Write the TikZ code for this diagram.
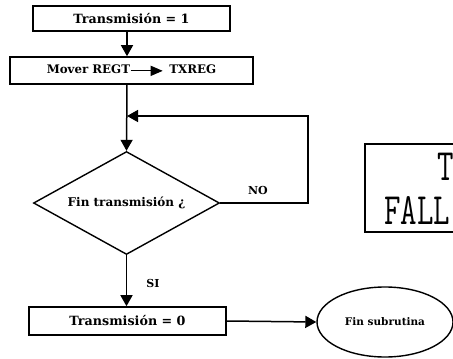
\documentclass[tikz,border=0pt]{standalone}
\usepackage{fontspec}
\setmainfont{DejaVu Serif}
\usetikzlibrary{shapes.geometric,arrows.meta}
\begin{document}
\begin{tikzpicture}[x=1pt,y=-1pt,
  box/.style={draw,line width=1.6pt,rectangle,inner sep=0pt,font=\bfseries\fontsize{12.7}{15}\selectfont},
  dec/.style={draw,line width=1.4pt,diamond,aspect=1.8,inner sep=0pt,minimum width=186pt,minimum height=103pt,font=\bfseries\fontsize{12}{14}\selectfont},
  term/.style={draw,line width=1.4pt,ellipse,inner sep=0pt,minimum width=136pt,minimum height=70pt,font=\bfseries\fontsize{10.5}{13}\selectfont},
  lbl/.style={font=\bfseries\fontsize{11}{13}\selectfont,inner sep=0pt},
  arr/.style={line width=1.5pt,-{Triangle[length=11pt,width=12pt]}},
  stamp/.style={inner sep=0pt,anchor=west,font=\ttfamily\fontsize{32}{34}\selectfont}
]
\useasboundingbox (0,0) rectangle (453,359);
\fill[white] (0,0) rectangle (453,359);

\node[box,minimum width=197pt,minimum height=25pt] (b1) at (131.5,18.5) {Transmisión = 1};
\node[box,minimum width=243pt,minimum height=27pt,font=\bfseries\fontsize{11.8}{13}\selectfont] (b2) at (131.5,70.5)
  {Mover REGT\tikz[baseline=-0.5ex]\draw[line width=1.3pt,-{Triangle[length=12pt,width=10pt]}] (0,0) -- (32pt,0);\hspace{6pt}TXREG};
\node[dec] (d) at (126.5,203) {Fin transmisión ¿};
\node[box,minimum width=197pt,minimum height=28pt] (b3) at (127.5,321) {Transmisión = 0};
\node[term] (e) at (385,322) {Fin subrutina};

\coordinate (j) at (127,116);
\coordinate (fb) at (308,116);

\draw[arr] (b1.south -| j) -- (b2.north -| j);
\draw[arr] (b2.south -| j) -- (d.north);
\draw[arr] (d.east) -| (fb) -- (j);
\draw[arr] (d.south) -- (b3.north -| d.south);
\draw[arr] (b3.east) -- (e.west);

\node[lbl] (no) at (258,190) {NO};
\node[lbl] (si) at (153,283) {SI};

% stamp, cut off by the picture edge
\draw[line width=1.8pt] (470,144) -- (365,144) -- (365,232) -- (470,232);
\node[stamp] (st1) at (437,167) {\scalebox{1}[1.4]{T}};
\node[stamp] (st2) at (384,210) {\scalebox{1}[1.4]{FALL}};
\end{tikzpicture}
\end{document}
